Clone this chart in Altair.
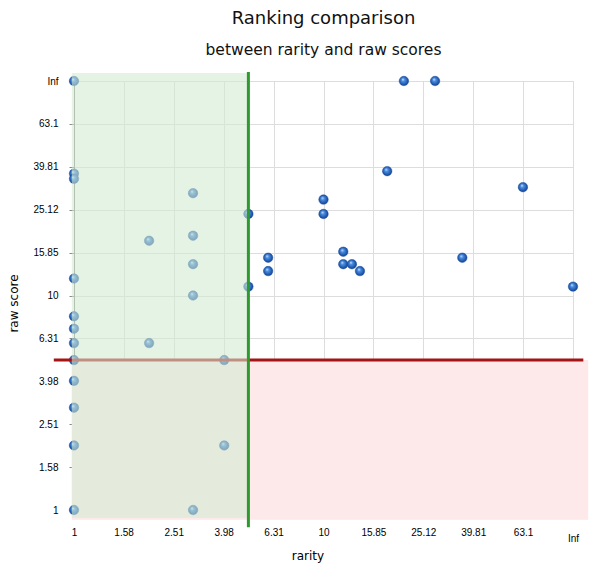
import altair as alt
import pandas as pd

INF = 100  # plotting position used for "Inf"

rarity = [1, 1, 1, 1, 1, 1, 1, 1, 1, 1, 1, 1,
          2, 2,
          3, 3, 3, 3, 3,
          4, 4,
          5, 5,
          6, 6,
          10, 10,
          12, 12, 13, 14,
          18, 21, 28, 36, 63, INF]
raw_score = [INF, 37, 35, 12, 8, 7, 6, 5, 4, 3, 2, 1,
             18, 6,
             30, 19, 14, 10, 1,
             5, 2,
             24, 11,
             15, 13,
             28, 24,
             16, 14, 14, 13,
             38, INF, INF, 15, 32, 11]

tick_values = [1, 1.58, 2.51, 3.98, 6.31, 10, 15.85, 25.12, 39.81, 63.1, INF]

rarity_threshold = 5
score_threshold = 5

points = pd.DataFrame({"rarity": rarity, "raw score": raw_score})

FONT = "DejaVu Sans"

xscale = alt.Scale(type="log", domain=[1, INF], nice=False)
yscale = alt.Scale(type="log", domain=[1, INF], nice=False)

xaxis = alt.Axis(values=tick_values, title="rarity",
                 labelExpr="datum.value >= 100 ? ['', 'Inf'] : '' + datum.value",
                 labelLineHeight=6, labelFlush=False, labelOverlap=False,
                 labelPadding=12, titleX=233.5, titleY=49, titleAlign="center",
                 titleBaseline="alphabetic", titleFontWeight="normal",
                 titleFont=FONT, titleFontSize=12)
yaxis = alt.Axis(values=tick_values, title="raw score",
                 labelExpr="datum.value >= 100 ? 'Inf\u00a0\u00a0' : '' + datum.value",
                 labelFlush=False, labelOverlap=False, labelPadding=11,
                 titleX=-57, titleY=222, titleAngle=270, titleAlign="center",
                 titleBaseline="alphabetic", titleFontWeight="normal",
                 titleFont=FONT, titleFontSize=12)

# shaded regions (extents slightly past the axes, like the original)
pink = pd.DataFrame({"x": [0.98], "x2": [115], "y": [0.9], "y2": [score_threshold]})
green = pd.DataFrame({"x": [0.98], "x2": [rarity_threshold], "y": [0.92], "y2": [109]})
vline = pd.DataFrame({"x": [rarity_threshold, rarity_threshold], "y": [0.83, 110]})
hline = pd.DataFrame({"x": [0.83, 110], "y": [score_threshold, score_threshold]})

base_x = alt.X("x:Q", scale=xscale, axis=xaxis)
base_y = alt.Y("y:Q", scale=yscale, axis=yaxis)

pink_layer = alt.Chart(pink).mark_rect(color="#fde9e9", opacity=1).encode(
    x=base_x, x2="x2:Q", y=base_y, y2="y2:Q")

grad = alt.RadialGradient(
    gradient="radial", x1=0.38, y1=0.32, r1=0.0, x2=0.5, y2=0.5, r2=0.55,
    stops=[alt.GradientStop(offset=0, color="#d8ecff"),
           alt.GradientStop(offset=0.3, color="#4a8fe2"),
           alt.GradientStop(offset=1, color="#0b3a8c")])

pts = alt.Chart(points).mark_circle(fill=grad, size=90, opacity=1, stroke="#1a4fa0",
                                    strokeWidth=0.5).encode(
    x=alt.X("rarity:Q", scale=xscale, axis=xaxis),
    y=alt.Y("raw score:Q", scale=yscale, axis=yaxis))

red_line = alt.Chart(hline).mark_line(color="#a51414", strokeWidth=3).encode(
    x=base_x, y=base_y)

green_layer = alt.Chart(green).mark_rect(color="#d2ebd2", opacity=0.58).encode(
    x=base_x, x2="x2:Q", y=base_y, y2="y2:Q")

green_line = alt.Chart(vline).mark_line(color="#2c9a2c", strokeWidth=3).encode(
    x=base_x, y=base_y)

chart = alt.layer(pink_layer, pts, red_line, green_layer, green_line).properties(
    width=499, height=429,
    autosize=alt.AutoSizeParams(type="none"),
    padding={"left": 66, "top": 73, "right": 19, "bottom": 59},
    title=alt.TitleParams(text="Ranking comparison",
                          subtitle="between rarity and raw scores",
                          anchor="middle", font=FONT, fontSize=18, fontWeight="normal",
                          color="#111", subtitleFont=FONT, subtitleFontSize=15.5,
                          subtitleColor="#111", subtitlePadding=15, offset=8),
).configure_view(stroke=None).configure_axis(
    grid=True, gridColor="#d6d6d6", gridWidth=1, domain=False, ticks=False,
    labelFont=FONT, labelFontSize=11, labelColor="#222",
    titleFont=FONT, titleFontSize=12, titleFontWeight="normal", titleColor="#222",
).configure(background="white")

chart.save("out.html", embed_options={"renderer": "svg", "actions": False})
